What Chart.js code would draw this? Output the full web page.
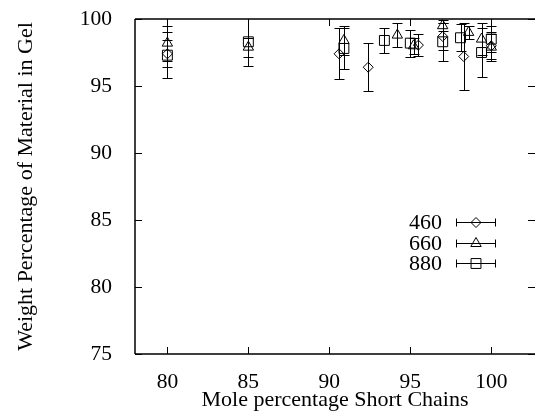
<!DOCTYPE html>
<html>
<head>
<meta charset="utf-8">
<script src="https://cdn.jsdelivr.net/npm/chart.js@4"></script>
<style>
  html, body { margin: 0; padding: 0; background: #fff; overflow: hidden; }
  canvas { display: block; }
</style>
</head>
<body>
<canvas id="gelChart" width="535" height="412"></canvas>
<script>
// ---- data ----
const seriesLabels = ['460', '660', '880'];

const x460 = [80.0, 90.6, 92.4, 95.5, 97.0, 98.3, 100.0];
const y460 = [97.4, 97.4, 96.4, 98.05, 98.7, 97.2, 98.0];
const e460 = [1.0, 1.9, 1.8, 0.8, 1.0, 2.5, 1.0];

const x660 = [80.0, 85.0, 90.9, 94.2, 95.2, 97.0, 98.6, 99.4, 100.0];
const y660 = [98.2, 97.9, 98.4, 98.8, 98.0, 99.5, 99.0, 98.5, 97.9];
const e660 = [1.3, 0.7, 1.1, 0.9, 0.6, 0.4, 0.5, 1.2, 1.0];

const x880 = [80.0, 85.0, 90.9, 93.4, 95.0, 97.0, 98.1, 99.4, 100.0];
const y880 = [97.3, 98.3, 97.8, 98.4, 98.2, 98.3, 98.6, 97.5, 98.5];
const e880 = [1.7, 1.8, 1.5, 0.95, 1.0, 1.4, 1.0, 1.8, 1.0];

const xTickValues = [80, 85, 90, 95, 100];
const yTickValues = [75, 80, 85, 90, 95, 100];

const FONT = 'Liberation Serif';

function points(xs, ys, es) {
    return xs.map((x, i) => ({ x: x, y: ys[i], err: es[i] }));
}

function series(label, xs, ys, es, style, radius) {
    return {
        label: label,
        data: points(xs, ys, es),
        pointStyle: style,
        pointRadius: radius,
        pointBorderColor: '#000',
        pointBackgroundColor: 'rgba(0,0,0,0)',
        pointBorderWidth: 1,
        showLine: false
    };
}

// vertical error bars with caps, drawn through the scales
const errorBars = {
    id: 'errorBars',
    beforeDatasetsDraw(chart) {
        const ctx = chart.ctx;
        const xs = chart.scales.x, ys = chart.scales.y;
        const area = chart.chartArea;
        ctx.save();
        ctx.beginPath();
        ctx.rect(area.left, area.top, area.right - area.left, area.bottom - area.top);
        ctx.clip();
        ctx.strokeStyle = '#000';
        ctx.lineWidth = 1;
        chart.data.datasets.forEach(ds => {
            ds.data.forEach(p => {
                const px = Math.round(xs.getPixelForValue(p.x)) + 0.5;
                const top = Math.round(ys.getPixelForValue(p.y + p.err)) + 0.5;
                const bot = Math.round(ys.getPixelForValue(p.y - p.err)) + 0.5;
                ctx.beginPath();
                ctx.moveTo(px, top); ctx.lineTo(px, bot);
                ctx.moveTo(px - 5, top); ctx.lineTo(px + 5, top);
                ctx.moveTo(px - 5, bot); ctx.lineTo(px + 5, bot);
                ctx.stroke();
            });
        });
        ctx.restore();
    }
};

// gnuplot-like frame with inward ticks, plus the in-plot key
const frameAndKey = {
    id: 'frameAndKey',
    afterDraw(chart) {
        const ctx = chart.ctx;
        const a = chart.chartArea;
        const xs = chart.scales.x, ys = chart.scales.y;
        const tick = 7;
        ctx.save();
        ctx.strokeStyle = '#000';
        ctx.lineWidth = 1.5;
        ctx.beginPath();
        ctx.moveTo(a.left, a.top); ctx.lineTo(a.right, a.top);
        ctx.moveTo(a.left, a.top); ctx.lineTo(a.left, a.bottom);
        ctx.moveTo(a.left, a.bottom); ctx.lineTo(a.right, a.bottom);
        ctx.stroke();
        ctx.lineWidth = 1;
        ctx.beginPath();
        xTickValues.forEach(v => {
            const px = Math.round(xs.getPixelForValue(v)) + 0.5;
            ctx.moveTo(px, a.bottom); ctx.lineTo(px, a.bottom - tick);
            ctx.moveTo(px, a.top); ctx.lineTo(px, a.top + tick);
        });
        yTickValues.forEach(v => {
            const py = Math.round(ys.getPixelForValue(v)) + 0.5;
            ctx.moveTo(a.left, py); ctx.lineTo(a.left + tick, py);
            ctx.moveTo(a.right, py); ctx.lineTo(a.right - tick, py);
        });
        ctx.stroke();

        // key
        const textRight = 442, lineL = 456, lineR = 496, firstY = 222, gap = 20.5;
        ctx.font = '22px "' + FONT + '"';
        ctx.textAlign = 'right';
        ctx.textBaseline = 'middle';
        chart.data.datasets.forEach((ds, i) => {
            const y = Math.round(firstY + i * gap) + 0.5;
            ctx.fillStyle = '#000';
            ctx.fillText(ds.label, textRight, y + 1);
            ctx.beginPath();
            ctx.moveTo(lineL, y); ctx.lineTo(lineR, y);
            ctx.moveTo(lineL + 0.5, y - 4); ctx.lineTo(lineL + 0.5, y + 4);
            ctx.moveTo(lineR - 0.5, y - 4); ctx.lineTo(lineR - 0.5, y + 4);
            ctx.stroke();
            ctx.fillStyle = 'rgba(0,0,0,0)';
            Chart.helpers.drawPoint(ctx, {
                pointStyle: ds.pointStyle,
                radius: ds.pointRadius,
                borderWidth: 1
            }, (lineL + lineR) / 2, y);
        });
        ctx.restore();
    }
};

new Chart(document.getElementById('gelChart'), {
    type: 'scatter',
    data: {
        datasets: [
            series(seriesLabels[0], x460, y460, e460, 'rectRot', 5),
            series(seriesLabels[1], x660, y660, e660, 'triangle', 6),
            series(seriesLabels[2], x880, y880, e880, 'rect', 7)
        ]
    },
    options: {
        responsive: false,
        animation: false,
        layout: { autoPadding: false, padding: { top: 19, right: 0, left: 0, bottom: 0 } },
        plugins: {
            legend: { display: false },
            tooltip: { enabled: false }
        },
        scales: {
            x: {
                type: 'linear',
                min: 78,
                max: 102.7,
                afterBuildTicks: s => { s.ticks = xTickValues.map(v => ({ value: v })); },
                afterFit: s => { s.height = 58; s.paddingLeft = 0; s.paddingRight = 0; },
                grid: { display: false },
                border: { display: false },
                ticks: { color: '#000', font: { family: FONT, size: 21.5 }, padding: 7, maxRotation: 0 },
                title: {
                    display: true,
                    text: 'Mole percentage Short Chains',
                    color: '#000',
                    font: { family: FONT, size: 22, lineHeight: 1.1 },
                    padding: { top: 0, bottom: 0 }
                }
            },
            y: {
                type: 'linear',
                min: 75,
                max: 100,
                afterBuildTicks: s => { s.ticks = yTickValues.map(v => ({ value: v })); },
                afterFit: s => { s.width = 135; s.paddingTop = 0; s.paddingBottom = 0; },
                grid: { display: false },
                border: { display: false },
                ticks: { color: '#000', font: { family: FONT, size: 21.5 }, padding: 15 },
                title: {
                    display: true,
                    text: 'Weight Percentage of Material in Gel',
                    color: '#000',
                    font: { family: FONT, size: 22, lineHeight: 1.2 },
                    padding: { top: 13, bottom: 0 }
                }
            }
        }
    },
    plugins: [errorBars, frameAndKey]
});
</script>
</body>
</html>
